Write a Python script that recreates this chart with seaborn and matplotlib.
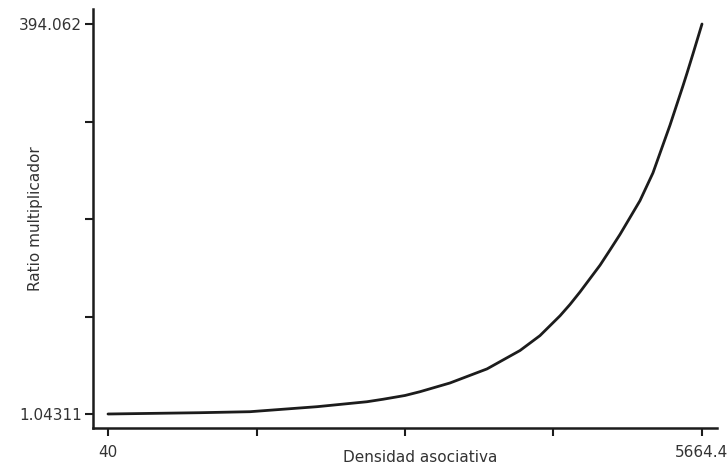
import matplotlib
matplotlib.use("Agg")
import matplotlib.pyplot as plt
import seaborn as sns
import numpy as np
import pandas as pd

# Curve samples: associative density vs. multiplier ratio
densidad = [40, 911, 1385, 2019, 2492, 2644, 2852, 2994, 3278, 3629,
            3941, 4130, 4320, 4415, 4509, 4699, 4793, 4888, 5077,
            5200, 5361, 5485, 5523, 5579, 5664.4]
ratio = [1.04311, 2.35, 3.36, 8.4, 13.4, 15.9, 19.7, 23.5, 32.3, 46.5,
         65.0, 80.0, 100.0, 111.5, 124.0, 151.0, 166.3, 182.0, 216.0,
         244.0, 292.0, 332.0, 344.7, 364.0, 394.062]

x_min, x_max = 40, 5664.4
y_min, y_max = 1.04311, 394.062
x_label_text = ["40", "", "", "", "5664.4"]
y_label_text = ["1.04311", "", "", "", "394.062"]

sns.set_theme(style="white")
plt.rcParams["font.family"] = ["DejaVu Sans"]

text_color = "#333333"
line_color = "#1c1c1c"

fig = plt.figure(figsize=(7.28, 4.66), dpi=100)
ax = fig.add_axes([93 / 728, 1 - 428 / 466, 624 / 728, 419 / 466])

df = pd.DataFrame({"Densidad asociativa": densidad, "Ratio multiplicador": ratio})
sns.lineplot(data=df, x="Densidad asociativa", y="Ratio multiplicador",
             color=line_color, linewidth=2.0, ax=ax, estimator=None, sort=False)

x_span = x_max - x_min
y_span = y_max - y_min
ax.set_xlim(x_min - x_span * 15 / 594, x_max + x_span * 15 / 594)
ax.set_ylim(y_min - y_span * 14 / 390, y_max + y_span * 15 / 390)

ax.set_xticks(np.linspace(x_min, x_max, 5))
ax.set_xticklabels(x_label_text)
ax.set_yticks(np.linspace(y_min, y_max, 5))
ax.set_yticklabels(y_label_text)

for side in ["top", "right"]:
    ax.spines[side].set_visible(False)
for side in ["left", "bottom"]:
    ax.spines[side].set_color(line_color)
    ax.spines[side].set_linewidth(1.8)

ax.tick_params(axis="both", direction="out", length=6, width=1.5,
               color=line_color, labelcolor=text_color, labelsize=11)
ax.tick_params(axis="x", pad=6.5)
ax.tick_params(axis="y", pad=2)
ax.tick_params(bottom=True, left=True)

ax.set_xlabel("Densidad asociativa", fontsize=11, color=text_color)
ax.set_ylabel("Ratio multiplicador", fontsize=11, color=text_color)
ax.xaxis.set_label_coords((420 - 93) / 624, -(450 - 428) / 419)
ax.yaxis.set_label_coords((43 - 93) / 624, 0.5)

fig.savefig("out.png", dpi=100, facecolor="white")
